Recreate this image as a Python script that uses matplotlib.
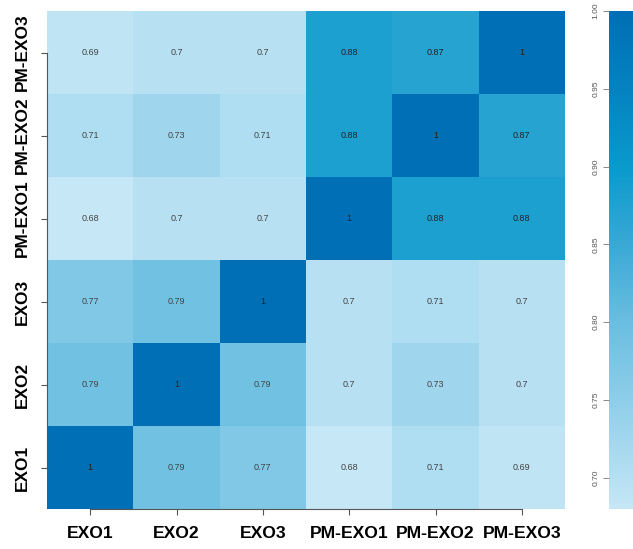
import numpy as np
import matplotlib
matplotlib.use("Agg")
import matplotlib.pyplot as plt
from matplotlib.colors import LinearSegmentedColormap

labels = ["EXO1", "EXO2", "EXO3", "PM-EXO1", "PM-EXO2", "PM-EXO3"]
# rows listed bottom to top, columns left to right
row_exo1 = [1, 0.79, 0.77, 0.68, 0.71, 0.69]
row_exo2 = [0.79, 1, 0.79, 0.7, 0.73, 0.7]
row_exo3 = [0.77, 0.79, 1, 0.7, 0.71, 0.7]
row_pm1 = [0.68, 0.7, 0.7, 1, 0.88, 0.88]
row_pm2 = [0.71, 0.73, 0.71, 0.88, 1, 0.87]
row_pm3 = [0.69, 0.7, 0.7, 0.88, 0.87, 1]
cbar_ticks = [0.70, 0.75, 0.80, 0.85, 0.90, 0.95, 1.00]

M = np.array([row_exo1, row_exo2, row_exo3, row_pm1, row_pm2, row_pm3])

vmin, vmax = 0.68, 1.0
nodes = [(0.68, "#c6e7f6"), (0.75, "#8ecee9"), (0.80, "#6abee1"),
         (0.85, "#3aa9d6"), (0.90, "#0a9acc"), (0.95, "#0583c0"),
         (1.00, "#006fb5")]
cmap = LinearSegmentedColormap.from_list(
    "c", [((v - vmin) / (vmax - vmin), c) for v, c in nodes])

plt.rcParams["font.family"] = ["Liberation Sans", "DejaVu Sans"]
fig = plt.figure(figsize=(6.33, 5.49), dpi=100)
ax = fig.add_axes([47/633, 40/549, 518/633, 498/549])
n = len(labels)
ax.pcolormesh(np.arange(n + 1), np.arange(n + 1), M, cmap=cmap,
              vmin=vmin, vmax=vmax)
for i in range(n):
    for j in range(n):
        v = M[i, j]
        txt = "1" if v == 1 else ("%g" % v)
        ax.text(j + 0.5, i + 0.5, txt, ha="center", va="center",
                fontsize=6.5, color="#222222" if v > 0.85 else "#444444")
ax.set_xlim(0, n)
ax.set_ylim(0, n)
ax.set_xticks(np.arange(n) + 0.5)
ax.set_yticks(np.arange(n) + 0.5)
ax.set_xticklabels(labels, fontsize=12.6, fontweight="bold")
ax.set_yticklabels(labels, fontsize=12.4, fontweight="bold", rotation=90,
                   va="center")
ax.tick_params(axis="both", length=4, width=0.8, color="#555555", pad=8)
for s in ["top", "right"]:
    ax.spines[s].set_visible(False)
for s in ["left", "bottom"]:
    ax.spines[s].set_bounds(0.5, n - 0.5)
    ax.spines[s].set_color("#555555")
    ax.spines[s].set_linewidth(0.8)

cax = fig.add_axes([609/633, 40/549, 40/633, 498/549])
grad = np.linspace(vmin, vmax, 256).reshape(-1, 1)
cax.imshow(grad, aspect="auto", origin="lower", cmap=cmap,
           extent=[0, 1, vmin, vmax], vmin=vmin, vmax=vmax)
cax.set_xlim(0, 1)
cax.set_ylim(vmin, vmax)
cax.set_xticks([])
cax.yaxis.tick_left()
cax.set_yticks(cbar_ticks)
cax.set_yticklabels(["%.2f" % t for t in cbar_ticks], rotation=90,
                    va="center", fontsize=6, color="#555555")
cax.tick_params(axis="y", length=4, width=0.6, color="#777777", pad=3)
for s in cax.spines.values():
    s.set_visible(False)

fig.savefig("out.png", dpi=100)
